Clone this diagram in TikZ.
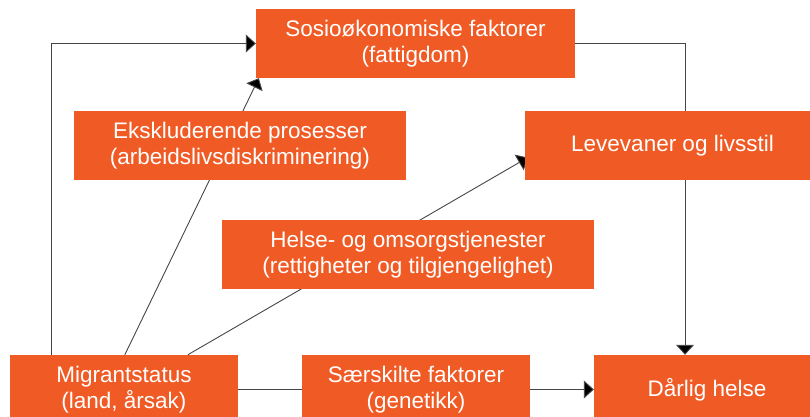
\documentclass[tikz,border=0pt]{standalone}
\usepackage{fontspec}
\setmainfont{Liberation Sans}
\usetikzlibrary{arrows.meta,backgrounds,positioning}
\definecolor{boxorange}{RGB}{240,91,37}
\definecolor{linegray}{RGB}{70,70,70}
\begin{document}
\begin{tikzpicture}[x=1pt,y=-1pt,
  box/.style={fill=boxorange,text=white,inner sep=0pt,align=center,
    minimum height=69pt,font=\fontsize{22.5}{25.5}\selectfont},
  conn/.style={draw=linegray,line width=0.9pt},
  arr/.style={conn,-{Triangle[length=10pt,width=18pt,fill=black]}}]
\useasboundingbox (0,0) rectangle (810,417);
\clip (0,0) rectangle (810,417);
\node[box,minimum width=319pt] (sosio) at (415.5,43.5) {Sosioøkonomiske faktorer\\(fattigdom)};
\node[box,minimum width=332pt] (ekskl) at (240,145.5) {Ekskluderende prosesser\\(arbeidslivsdiskriminering)};
\node[box,minimum width=295pt] (leve) at (672.5,145.5) {Levevaner og livsstil};
\node[box,minimum width=372pt] (helse) at (408,254.5) {Helse- og omsorgstjenester\\(rettigheter og tilgjengelighet)};
\node[box,minimum width=228pt] (migr) at (124,389.5) {Migrantstatus\\(land, årsak)};
\node[box,minimum width=228pt] (saer) at (416,389.5) {Særskilte faktorer\\(genetikk)};
\node[box,minimum width=226pt] (darlig) at (707,389.5) {Dårlig helse};
\begin{pgfonlayer}{background}
\draw[arr] ([xshift=42pt]migr.north west) |- (sosio.west);
\draw[arr] ([xshift=115pt]migr.north west) -- ([xshift=3pt]sosio.south west);
\draw[arr] ([xshift=178pt]migr.north west) -- ([xshift=3pt,yshift=-12pt]leve.west);
\draw[arr] (sosio.east) -| ([xshift=-22pt]darlig.north);
\draw[conn] (migr.east) -- (saer.west);
\draw[arr] (saer.east) -- (darlig.west);
\end{pgfonlayer}
\end{tikzpicture}
\end{document}
